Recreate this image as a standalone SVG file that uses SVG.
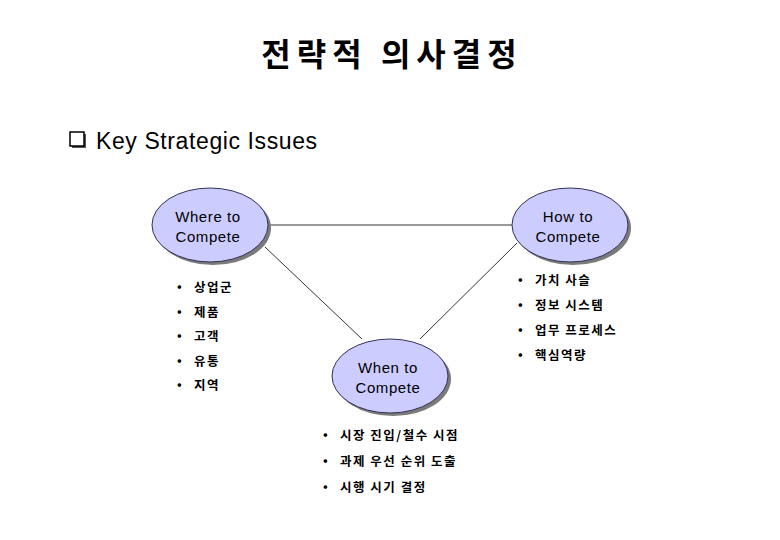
<svg xmlns="http://www.w3.org/2000/svg" width="780" height="540" viewBox="0 0 780 540">
<style>
.title{font-family:"Noto Sans CJK KR","Noto Sans",sans-serif;font-size:32px;font-weight:bold;fill:#000;text-anchor:middle;letter-spacing:6px}
.head{font-family:"Liberation Sans","DejaVu Sans",sans-serif;font-size:23px;fill:#000;letter-spacing:0.6px}
.lbl{font-family:"Liberation Sans","DejaVu Sans",sans-serif;font-size:15px;fill:#000;text-anchor:middle;letter-spacing:0.6px}
.item{font-family:"Noto Sans CJK KR",sans-serif;font-size:12.5px;font-weight:bold;fill:#000;letter-spacing:1.5px}
.ell{fill:#CCCCFF;stroke:#333355;stroke-width:1}
.shd{fill:#7a7a7a}
.con{stroke:#000;stroke-width:0.8;fill:none}
</style>
<rect width="780" height="540" fill="#fff"/>
<text class="title" x="392" y="66">전략적 의사결정</text>
<g id="heading">
<rect x="70" y="132" width="14" height="14" fill="#555" transform="translate(2,2)"/>
<rect x="70" y="132" width="14" height="14" fill="#fff" stroke="#000" stroke-width="1.5"/>
<text class="head" x="96" y="149">Key Strategic Issues</text>
</g>
<g id="connectors">
<line class="con" x1="268" y1="225" x2="512" y2="225"/>
<line class="con" x1="265" y1="247" x2="362" y2="339"/>
<line class="con" x1="517" y1="243" x2="420" y2="339"/>
</g>
<g id="where">
<ellipse class="shd" cx="213" cy="228" rx="58" ry="37"/>
<ellipse class="ell" cx="210" cy="225" rx="58" ry="37"/>
<text class="lbl" x="208" y="222">Where to</text>
<text class="lbl" x="208" y="242">Compete</text>
</g>
<g id="how">
<ellipse class="shd" cx="573" cy="228" rx="58" ry="37"/>
<ellipse class="ell" cx="570" cy="225" rx="58" ry="37"/>
<text class="lbl" x="568" y="222">How to</text>
<text class="lbl" x="568" y="242">Compete</text>
</g>
<g id="when">
<ellipse class="shd" cx="393" cy="379" rx="58" ry="37"/>
<ellipse class="ell" cx="390" cy="376" rx="58" ry="37"/>
<text class="lbl" x="388" y="373">When to</text>
<text class="lbl" x="388" y="393">Compete</text>
</g>
<g id="where-list">
<text class="item" x="177" y="291" font-size="9">•</text><text class="item" x="194" y="292">상업군</text>
<text class="item" x="177" y="316" font-size="9">•</text><text class="item" x="194" y="317">제품</text>
<text class="item" x="177" y="340" font-size="9">•</text><text class="item" x="194" y="341">고객</text>
<text class="item" x="177" y="365" font-size="9">•</text><text class="item" x="194" y="366">유통</text>
<text class="item" x="177" y="389" font-size="9">•</text><text class="item" x="194" y="390">지역</text>
</g>
<g id="how-list">
<text class="item" x="518" y="284" font-size="9">•</text><text class="item" x="535" y="285">가치 사슬</text>
<text class="item" x="518" y="309" font-size="9">•</text><text class="item" x="535" y="310">정보 시스템</text>
<text class="item" x="518" y="334" font-size="9">•</text><text class="item" x="535" y="335">업무 프로세스</text>
<text class="item" x="518" y="359" font-size="9">•</text><text class="item" x="535" y="360">핵심역량</text>
</g>
<g id="when-list">
<text class="item" x="323" y="439" font-size="9">•</text><text class="item" x="340" y="440">시장 진입/철수 시점</text>
<text class="item" x="323" y="465" font-size="9">•</text><text class="item" x="340" y="466">과제 우선 순위 도출</text>
<text class="item" x="323" y="491" font-size="9">•</text><text class="item" x="340" y="492">시행 시기 결정</text>
</g>
</svg>
